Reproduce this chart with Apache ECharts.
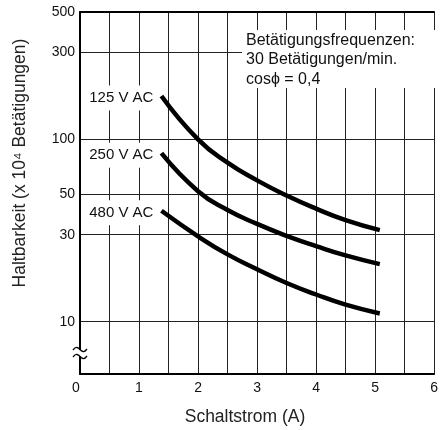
<!DOCTYPE html>
<html><head><meta charset="utf-8">
<script src="https://cdn.jsdelivr.net/npm/echarts@6/dist/echarts.min.js"></script>
<style>html,body{margin:0;padding:0;background:#fff}#c{width:441px;height:430px}</style>
</head><body><div id="c"></div>
<script>
// ---- data ----
const xCurrent = [1.38, 2, 2.5, 3, 3.5, 4, 4.5, 5.08];
const life125 = [173, 100, 74.5, 59.6, 49.2, 41.7, 36.1, 31.8];
const life250 = [84, 52, 41, 34.4, 29.6, 26.0, 23.1, 20.7];
const life480 = [40.6, 29.4, 23.4, 19.4, 16.3, 14.1, 12.4, 11.1];
const seriesNames = ['125 V AC', '250 V AC', '480 V AC'];
const yTickValues = [10, 30, 50, 100, 300, 500];
const xTickLabels = ['0', '1', '2', '3', '4', '5', '6'];
const xTitle = 'Schaltstrom (A)';
const yTitle = 'Haltbarkeit (x 10\u2074 Betätigungen)';
const noteLines = ['Betätigungsfrequenzen:', '30 Betätigungen/min.', 'cos\u03D5 = 0,4'];

const FONT = '"Liberation Sans", Arial, Helvetica, sans-serif';
const chart = echarts.init(document.getElementById('c'), null, {renderer: 'canvas'});

function curve(name, ys) {
  return {
    type: 'line', name: name, smooth: true, silent: true, z: 5,
    xAxisIndex: 0, yAxisIndex: 0,
    showSymbol: true, symbol: 'circle', symbolSize: 0,
    lineStyle: {color: '#000', width: 4.5, cap: 'butt'},
    itemStyle: {color: '#000'},
    label: {show: false},
    emphasis: {disabled: true},
    data: xCurrent.map((x, i) => i === 0 ? {
      value: [x, ys[i]],
      label: {
        show: true, position: 'left', distance: 3, offset: [0, 2],
        formatter: name, color: '#111', fontSize: 15, fontFamily: FONT,
        backgroundColor: '#fff', padding: [5, 5, 5, 3]
      }
    } : [x, ys[i]])
  };
}

const option = {
  animation: false,
  backgroundColor: '#fff',
  grid: {left: 80, top: 12, width: 363, height: 362},
  xAxis: [{
    type: 'value', min: 0, max: 6, interval: 0.5,
    axisLine: {show: true, lineStyle: {color: '#000', width: 2}},
    axisTick: {show: false},
    splitLine: {show: true, lineStyle: {color: '#222', width: 1}},
    axisLabel: {
      color: '#111', fontSize: 14, fontFamily: FONT, margin: 7,
      showMaxLabel: true, showMinLabel: true,
      formatter: v => {
        if (Math.abs(v - Math.round(v)) > 1e-9) return '';
        const t = xTickLabels[Math.round(v)];
        return Math.round(v) === 0 ? '{z|' + t + '}' : t;
      },
      rich: {z: {fontSize: 14, fontFamily: FONT, color: '#111', padding: [0, 8, 0, 0]}}
    }
  }, {
    type: 'value', min: 0, max: 6, position: 'top',
    axisLine: {show: true, onZero: false, lineStyle: {color: '#000', width: 2}},
    axisTick: {show: false}, axisLabel: {show: false}, splitLine: {show: false}
  }],
  yAxis: {
    type: 'log', min: 5.165, max: 500,
    axisLine: {show: true, lineStyle: {color: '#000', width: 2}},
    axisTick: {show: false, customValues: yTickValues},
    axisLabel: {customValues: yTickValues, formatter: v => String(Math.round(v)),
                color: '#111', fontSize: 14, fontFamily: FONT, margin: 5},
    splitLine: {show: true, lineStyle: {color: '#222', width: 1}}
  },
  series: [
    curve(seriesNames[0], life125),
    curve(seriesNames[1], life250),
    curve(seriesNames[2], life480)
  ],
  graphic: [
    {type: 'rect', z: 100, shape: {x: 242, y: 30, width: 194, height: 58}, style: {fill: '#fff'}},
    {type: 'text', z: 101, x: 246, y: 31, style: {
      text: noteLines.join('\n'), fill: '#111', font: '16px ' + FONT, lineHeight: 19.3,
      align: 'left', verticalAlign: 'top'}},
    {type: 'rect', z: 100, shape: {x: 77, y: 350, width: 6, height: 6}, style: {fill: '#fff'}},
    {type: 'polyline', z: 101, shape: {points: [[73, 350], [77, 347.5], [83, 351.5], [87, 349]], smooth: 0.5},
      style: {stroke: '#000', lineWidth: 1.3, fill: null}},
    {type: 'polyline', z: 101, shape: {points: [[73, 357], [77, 354.5], [83, 358.5], [87, 356]], smooth: 0.5},
      style: {stroke: '#000', lineWidth: 1.3, fill: null}},
    {type: 'text', z: 101, x: 245, y: 417, style: {
      text: xTitle, fill: '#222', font: '17.5px ' + FONT, align: 'center', verticalAlign: 'middle'}},
    {type: 'text', z: 101, x: 20, y: 163, rotation: Math.PI / 2, style: {
      text: yTitle, fill: '#222', font: '17.5px ' + FONT, align: 'center', verticalAlign: 'middle'}}
  ]
};
chart.setOption(option);
</script>
</body></html>
